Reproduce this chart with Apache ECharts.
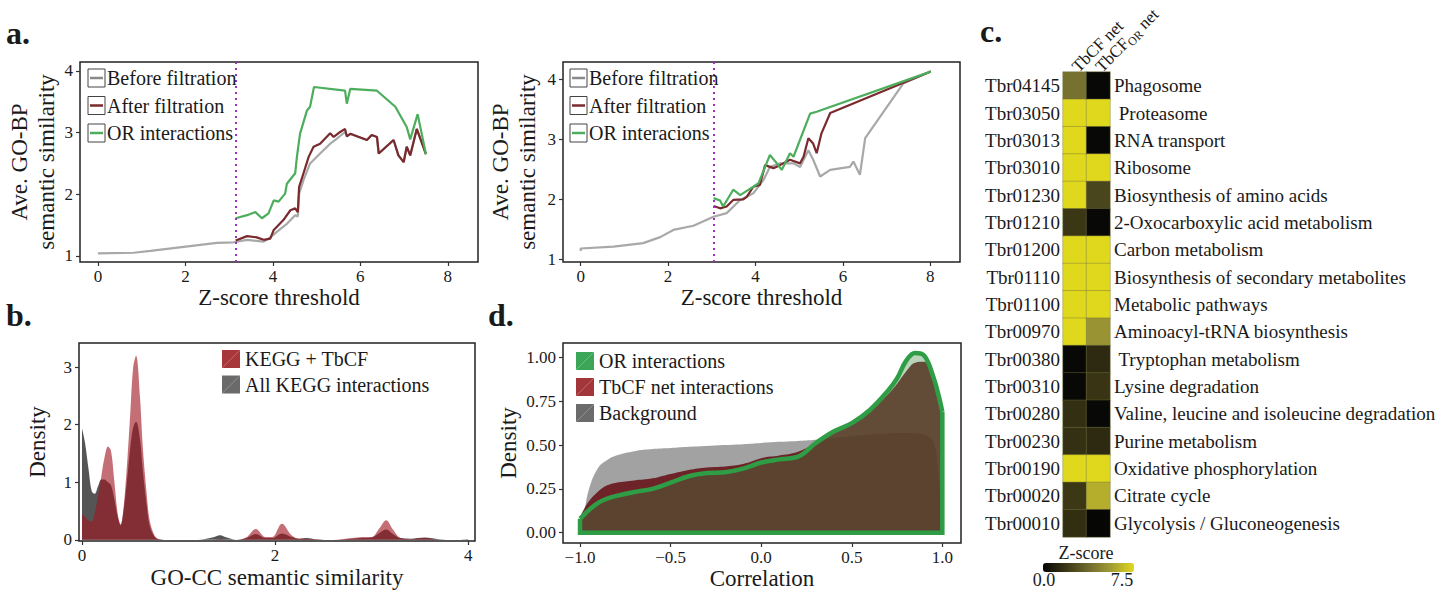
<!DOCTYPE html>
<html>
<head>
<meta charset="utf-8">
<script src="https://cdn.jsdelivr.net/npm/echarts@6/dist/echarts.min.js"></script>
<style>
html, body { margin: 0; padding: 0; background: #fff; }
#chart { width: 1448px; height: 592px; }
</style>
</head>
<body>
<div id="chart"></div>
<script>
// ---- panel a (left): Z-score threshold vs Ave. GO-BP similarity
const aLeftBefore = [[0,1.04],[0.82,1.05],[1.2,1.08],[2.01,1.15],[2.72,1.21],[3.1,1.22],[3.41,1.26],[3.79,1.23],[3.94,1.30],[4.09,1.39],[4.32,1.52],[4.51,1.66],[4.57,1.64],[4.6,2.01],[4.7,2.23],[4.85,2.5],[5.08,2.66],[5.31,2.82],[5.46,2.9],[5.65,3.01],[5.69,2.94],[5.77,2.98],[6.15,2.88],[6.26,2.96],[6.38,2.93],[6.42,2.66],[6.76,2.88],[6.87,2.63],[6.99,2.52],[7.06,2.77],[7.14,2.63],[7.29,3.06],[7.5,2.65]];
const aLeftAfter = [[3.15,1.25],[3.41,1.32],[3.63,1.30],[3.79,1.26],[3.94,1.28],[4.02,1.42],[4.24,1.58],[4.4,1.74],[4.51,1.77],[4.57,1.71],[4.6,2.12],[4.7,2.34],[4.82,2.61],[4.93,2.77],[5.08,2.82],[5.31,2.99],[5.39,2.93],[5.54,3.01],[5.65,3.06],[5.69,2.94],[5.77,2.98],[6.15,2.88],[6.26,2.96],[6.38,2.93],[6.42,2.66],[6.76,2.88],[6.87,2.63],[6.99,2.52],[7.06,2.77],[7.14,2.63],[7.29,3.06],[7.5,2.65]];
const aLeftOR = [[3.15,1.61],[3.41,1.66],[3.6,1.71],[3.75,1.61],[3.9,1.69],[4.02,1.9],[4.13,1.88],[4.28,2.01],[4.32,2.17],[4.51,2.34],[4.55,2.61],[4.62,2.98],[4.78,3.36],[4.85,3.42],[4.94,3.74],[5.65,3.68],[5.69,3.47],[5.77,3.71],[6.38,3.68],[6.8,3.42],[7.06,3.09],[7.14,2.89],[7.31,3.3],[7.5,2.65]];
const aLeftCut = 3.15;

// ---- panel a (right)
const aRightBefore = [[0,1.14],[0,1.18],[0.75,1.21],[1.43,1.27],[1.82,1.37],[2.12,1.49],[2.58,1.56],[3.04,1.71],[3.34,1.77],[3.65,1.99],[3.95,2.1],[4.18,2.32],[4.33,2.54],[4.56,2.6],[4.87,2.6],[5.02,2.54],[5.21,2.82],[5.32,2.66],[5.48,2.38],[5.71,2.49],[6.16,2.54],[6.24,2.63],[6.39,2.41],[6.51,3.02],[7.38,3.93],[8.01,4.13]];
const aRightAfter = [[3.04,1.89],[3.19,1.85],[3.34,1.88],[3.49,1.99],[3.72,2.0],[3.8,2.04],[3.95,2.21],[4.1,2.24],[4.22,2.57],[4.41,2.52],[4.56,2.57],[4.79,2.66],[5.02,2.6],[5.1,2.71],[5.21,3.02],[5.32,2.93],[5.4,2.77],[5.51,3.1],[5.71,3.44],[8.01,4.13]];
const aRightOR = [[3.04,2.02],[3.19,1.98],[3.26,1.88],[3.49,2.16],[3.65,2.07],[3.8,2.14],[3.95,2.21],[4.07,2.27],[4.22,2.54],[4.33,2.74],[4.49,2.6],[4.6,2.49],[4.79,2.77],[4.87,2.71],[5.25,3.43],[5.4,3.46],[8.01,4.13]];
const aRightCut = 3.04;
const aXTicks = [0, 2, 4, 6, 8];
const aYTicks = [1, 2, 3, 4];

// ---- panel b: GO-CC semantic similarity densities
const bX = [0,0.03,0.07,0.1,0.13,0.17,0.2,0.23,0.27,0.3,0.33,0.37,0.4,0.43,0.47,0.5,0.53,0.56,0.6,0.63,0.67,0.7,0.75,0.8,0.9,1.2,1.35,1.43,1.5,1.6,1.7,1.8,1.9,1.97,2.07,2.17,2.25,2.33,2.42,2.6,2.8,2.9,3.0,3.08,3.15,3.22,3.3,3.4,3.55,3.7,3.85,4.0];
const bKeggTbcf = [0.45,0.4,0.33,0.32,0.45,0.8,1.1,1.4,1.62,1.55,1.1,0.45,0.27,0.55,1.4,2.2,3.0,3.2,2.5,1.6,0.8,0.35,0.08,0.01,0,0,0,0.01,0,0,0.04,0.19,0.05,0.05,0.28,0.08,0.02,0.02,0.01,0,0.03,0.05,0.05,0.2,0.34,0.18,0.03,0.01,0.03,0,0,0];
const bAllKegg = [1.94,1.7,1.2,0.85,0.8,0.95,1.05,1.05,1.0,0.95,0.75,0.4,0.25,0.5,1.1,1.6,1.95,2.05,1.75,1.2,0.6,0.25,0.06,0.01,0,0,0.04,0.08,0.04,0,0.03,0.1,0.03,0.03,0.11,0.05,0.02,0.03,0.01,0,0.02,0.03,0.04,0.12,0.18,0.1,0.03,0.02,0.04,0.01,0,0.01];
const bXTicks = [0, 2, 4];
const bYTicks = [0, 1, 2, 3];

// ---- panel d: correlation densities
const dX = [-1,-0.98,-0.95,-0.9,-0.85,-0.8,-0.7,-0.6,-0.5,-0.4,-0.3,-0.2,-0.1,0,0.1,0.2,0.3,0.4,0.5,0.6,0.7,0.75,0.8,0.85,0.9,0.95,0.98,1.0];
const dOR = [0.08,0.10,0.13,0.17,0.195,0.21,0.232,0.25,0.285,0.322,0.34,0.345,0.365,0.40,0.418,0.432,0.51,0.577,0.625,0.70,0.81,0.88,0.98,1.025,1.01,0.89,0.78,0.69];
const dTbcf = [0.09,0.13,0.18,0.235,0.27,0.285,0.298,0.31,0.335,0.358,0.372,0.378,0.392,0.425,0.44,0.46,0.51,0.565,0.615,0.69,0.79,0.85,0.92,0.97,0.975,0.86,0.74,0.63];
const dBackground = [0.02,0.10,0.25,0.37,0.415,0.44,0.465,0.477,0.483,0.49,0.495,0.50,0.505,0.512,0.518,0.523,0.53,0.54,0.55,0.56,0.566,0.568,0.568,0.567,0.56,0.52,0.32,0.0];
const dXTicks = [-1, -0.5, 0, 0.5, 1];
const dYTicks = [0, 0.25, 0.5, 0.75, 1];

// ---- panel c: KEGG pathway z-scores
const heatCodes = ['Tbr04145','Tbr03050','Tbr03013','Tbr03010','Tbr01230','Tbr01210','Tbr01200','Tbr01110','Tbr01100','Tbr00970','Tbr00380','Tbr00310','Tbr00280','Tbr00230','Tbr00190','Tbr00020','Tbr00010'];
const heatNames = ['Phagosome',' Proteasome','RNA transport','Ribosome','Biosynthesis of amino acids','2-Oxocarboxylic acid metabolism','Carbon metabolism','Biosynthesis of secondary metabolites','Metabolic pathways','Aminoacyl-tRNA biosynthesis',' Tryptophan metabolism','Lysine degradation','Valine, leucine and isoleucine degradation','Purine metabolism','Oxidative phosphorylation','Citrate cycle','Glycolysis / Gluconeogenesis'];
const heatCols = ['TbCF net', 'TbCFOR net'];
const heatTbcf = [4.0,7.5,7.5,7.5,7.5,1.9,7.5,7.5,7.5,7.5,0.1,0.1,1.6,1.65,7.5,1.95,1.55];
const heatTbcfOR = [0.1,7.5,0.1,7.5,2.4,0.1,7.5,7.5,7.5,5.3,1.4,1.8,0.1,1.4,7.5,6.2,0.05];

const FONT = "'Liberation Serif', 'DejaVu Serif', serif";
const INK = '#1a1a1a';

let myChart = echarts.init(document.getElementById('chart'), null, { renderer: 'svg' });

function xAxisOf(grid, min, max, ticks, name, gap, fmt) {
    return {
        type: 'value', gridIndex: grid, min: min, max: max,
        name: name, nameLocation: 'middle', nameGap: gap,
        nameTextStyle: { fontFamily: FONT, fontSize: 23, color: INK },
        axisLine: { show: false, onZero: false },
        axisTick: { show: true, length: 4, customValues: ticks, lineStyle: { color: '#333', width: 1.2 } },
        axisLabel: { customValues: ticks, margin: 6, fontFamily: FONT, fontSize: 17, color: INK, formatter: fmt },
        splitLine: { show: false }
    };
}
function yAxisOf(grid, min, max, ticks, name, gap, fmt) {
    return {
        type: 'value', gridIndex: grid, min: min, max: max,
        name: name, nameLocation: 'middle', nameGap: gap, nameRotate: 90,
        nameTextStyle: { fontFamily: FONT, fontSize: 23, color: INK, lineHeight: 27 },
        axisLine: { show: false, onZero: false },
        axisTick: { show: true, length: 4, customValues: ticks, lineStyle: { color: '#333', width: 1.2 } },
        axisLabel: { customValues: ticks, margin: 7, fontFamily: FONT, fontSize: 17, color: INK, formatter: fmt },
        splitLine: { show: false }
    };
}
function lineSeries(name, data, x, y, color, extra) {
    return Object.assign({
        name: name, type: 'line', data: data, xAxisIndex: x, yAxisIndex: y,
        showSymbol: false, symbol: 'none', lineStyle: { color: color, width: 2.2 }, z: 3
    }, extra || {});
}
function cutLine(v) {
    return {
        silent: true, symbol: 'none', label: { show: false },
        lineStyle: { color: '#9b2fc4', type: [2, 4], width: 2 },
        data: [{ xAxis: v }]
    };
}
function zip(xs, ys) { return xs.map((v, i) => [v, ys[i]]); }
const minus = v => String(v).replace('-', '\u2212');

// legends drawn as graphic items
function lineLegend(x, y, items) {
    let g = [];
    items.forEach((it, i) => {
        let cy = y + i * 27.5;
        g.push({ type: 'rect', shape: { x: x, y: cy - 9, width: 17, height: 18 }, style: { fill: '#fff', stroke: '#444', lineWidth: 1 }, z: 50 });
        g.push({ type: 'line', shape: { x1: x + 2, y1: cy, x2: x + 15, y2: cy }, style: { stroke: it[1], lineWidth: 2.5 }, z: 51 });
        g.push({ type: 'text', x: x + 19, y: cy, style: { text: it[0], font: '20px ' + FONT, fill: INK, align: 'left', verticalAlign: 'middle' }, z: 51 });
    });
    return g;
}
function fillLegend(x, y, step, items) {
    let g = [];
    items.forEach((it, i) => {
        let cy = y + i * step;
        g.push({ type: 'rect', shape: { x: x, y: cy - 9, width: 18, height: 18 }, style: { fill: it[1] }, z: 50 });
        g.push({ type: 'line', shape: { x1: x, y1: cy + 9, x2: x + 18, y2: cy - 9 }, style: { stroke: 'rgba(255,255,255,0.25)', lineWidth: 1 }, z: 51 });
        g.push({ type: 'text', x: x + 23, y: cy, style: { text: it[0], font: '20px ' + FONT, fill: INK, align: 'left', verticalAlign: 'middle' }, z: 51 });
    });
    return g;
}
function label(text, x, y, size, bold, align) {
    return { type: 'text', x: x, y: y, style: { text: text, font: (bold ? 'bold ' : '') + size + 'px ' + FONT, fill: INK, align: align || 'left', verticalAlign: 'middle' }, z: 60 };
}

const GREY = '#a8a8a8', RED = '#7a2a2e', GREEN = '#4cae5c';
const frame = { show: true, borderColor: '#222', borderWidth: 1.5, backgroundColor: 'transparent' };

let option = {
    animation: false,
    backgroundColor: '#fff',
    textStyle: { fontFamily: FONT },
    grid: [
        Object.assign({ left: 80, top: 62, width: 398, height: 200 }, frame),
        Object.assign({ left: 563, top: 62, width: 397, height: 200 }, frame),
        Object.assign({ left: 79, top: 343, width: 396, height: 198 }, frame),
        Object.assign({ left: 563, top: 343, width: 398, height: 200 }, frame),
        { left: 1063, top: 72, width: 47, height: 465, show: false }
    ],
    xAxis: [
        xAxisOf(0, -0.41, 8.69, aXTicks, 'Z-score threshold', 20),
        xAxisOf(1, -0.405, 8.68, aXTicks, 'Z-score threshold', 20),
        xAxisOf(2, -0.031, 4.07, bXTicks, 'GO-CC semantic similarity', 25),
        xAxisOf(3, -1.094, 1.103, dXTicks, 'Correlation', 24, v => minus(v.toFixed(1))),
        {
            type: 'category', gridIndex: 4, position: 'top', data: heatCols,
            axisLine: { show: false }, axisTick: { show: false }, splitLine: { show: false },
            axisLabel: {
                rotate: -45, margin: 3, fontFamily: FONT, fontSize: 17, color: INK, interval: 0,
                formatter: (v, i) => i === 0 ? 'TbCF net' : 'TbCF{sub|OR} net',
                rich: { sub: { fontFamily: FONT, fontSize: 12, color: INK, padding: [9, 0, 0, 0] } }
            }
        }
    ],
    yAxis: [
        yAxisOf(0, 0.90, 4.146, aYTicks, 'Ave. GO-BP\nsemantic similarity', 20),
        yAxisOf(1, 0.955, 4.29, aYTicks, 'Ave. GO-BP\nsemantic similarity', 22),
        yAxisOf(2, -0.02, 3.42, bYTicks, 'Density', 28),
        yAxisOf(3, -0.059, 1.082, dYTicks, 'Density', 41, v => v.toFixed(2)),
        {
            type: 'category', gridIndex: 4, data: heatCodes, inverse: true,
            axisLine: { show: false }, axisTick: { show: false },
            axisLabel: { margin: 3, fontFamily: FONT, fontSize: 19, color: INK, interval: 0 }
        },
        {
            type: 'category', gridIndex: 4, data: heatNames, inverse: true, position: 'right',
            axisLine: { show: false }, axisTick: { show: false },
            axisLabel: { margin: 4, fontFamily: FONT, fontSize: 19, color: INK, interval: 0, align: 'left' }
        }
    ],
    visualMap: {
        type: 'continuous', min: 0, max: 7.5, seriesIndex: 12, dimension: 2,
        orient: 'horizontal', left: 1043, top: 563, itemWidth: 9, itemHeight: 91,
        padding: 0, calculable: false, showLabel: false, text: null,
        inRange: { color: ['#050505', '#3a3615', '#6f6a2e', '#a29c35', '#e0d81c'] }
    },
    series: [
        // a left
        lineSeries('Before filtration', aLeftBefore, 0, 0, GREY, { markLine: cutLine(aLeftCut) }),
        lineSeries('After filtration', aLeftAfter, 0, 0, RED),
        lineSeries('OR interactions', aLeftOR, 0, 0, GREEN),
        // a right
        lineSeries('Before filtration', aRightBefore, 1, 1, GREY, { markLine: cutLine(aRightCut) }),
        lineSeries('After filtration', aRightAfter, 1, 1, RED),
        lineSeries('OR interacions', aRightOR, 1, 1, GREEN),
        // b
        lineSeries('All KEGG interactions', zip(bX, bAllKegg), 2, 2, 'none', {
            smooth: 0.35, lineStyle: { width: 0 }, areaStyle: { color: 'rgba(62,62,62,0.88)', opacity: 1 }
        }),
        lineSeries('KEGG + TbCF', zip(bX, bKeggTbcf), 2, 2, 'none', {
            smooth: 0.35, lineStyle: { width: 0 }, areaStyle: { color: 'rgba(160,22,32,0.62)', opacity: 1 }
        }),
        // d
        lineSeries('Background', zip(dX, dBackground), 3, 3, 'none', {
            smooth: 0.4, lineStyle: { width: 0 }, areaStyle: { color: 'rgba(95,95,95,0.58)', opacity: 1 }
        }),
        lineSeries('TbCF net interactions', zip(dX, dTbcf), 3, 3, 'none', {
            smooth: 0.4, lineStyle: { width: 0 }, areaStyle: { color: 'rgba(100,14,20,0.86)', opacity: 1 }
        }),
        lineSeries('OR interactions', zip(dX, dOR), 3, 3, '#2e9d45', {
            smooth: 0.4, lineStyle: { color: '#2e9d45', width: 4.5 }, areaStyle: { color: 'rgba(58,128,61,0.35)', opacity: 1 }, z: 4
        }),
        // closing outline of the OR density (edges and baseline)
        lineSeries('OR interactions', [[dX[0], dOR[0]], [dX[0], 0], [dX[dX.length - 1], 0], [dX[dX.length - 1], dOR[dOR.length - 1]]], 3, 3, '#2e9d45', {
            lineStyle: { color: '#2e9d45', width: 4.5, join: 'miter' }, z: 4
        }),
        // c heatmap
        {
            name: 'Z-score', type: 'heatmap', xAxisIndex: 4, yAxisIndex: 4,
            data: heatCodes.map((c, i) => [0, i, heatTbcf[i]]).concat(heatCodes.map((c, i) => [1, i, heatTbcfOR[i]])),
            itemStyle: { borderColor: 'rgba(120,118,60,0.7)', borderWidth: 0.6 }
        }
    ],
    graphic: [].concat(
        lineLegend(88, 78, [['Before filtration', '#8a8a8a'], ['After filtration', RED], ['OR interactions', GREEN]]),
        lineLegend(570, 78, [['Before filtration', '#8a8a8a'], ['After filtration', RED], ['OR interacions', GREEN]]),
        fillLegend(222, 359, 25.5, [['KEGG + TbCF', '#a8373c'], ['All KEGG interactions', '#6a6a6a']]),
        fillLegend(576, 361, 26, [['OR interactions', '#3ba657'], ['TbCF net interactions', '#a3363b'], ['Background', '#6b6b6b']]),
        [
            label('a.', 6, 33, 32, true),
            label('b.', 6, 315, 32, true),
            label('d.', 488, 315, 32, true),
            label('c.', 980, 31, 32, true),
            label('Z-score', 1086, 553, 18, false, 'center'),
            label('0.0', 1044, 580, 18, false, 'center'),
            label('7.5', 1122, 580, 18, false, 'center')
        ]
    )
};

myChart.setOption(option, true);
window.addEventListener('resize', function () {
    myChart.resize();
});
</script>
</body>
</html>
